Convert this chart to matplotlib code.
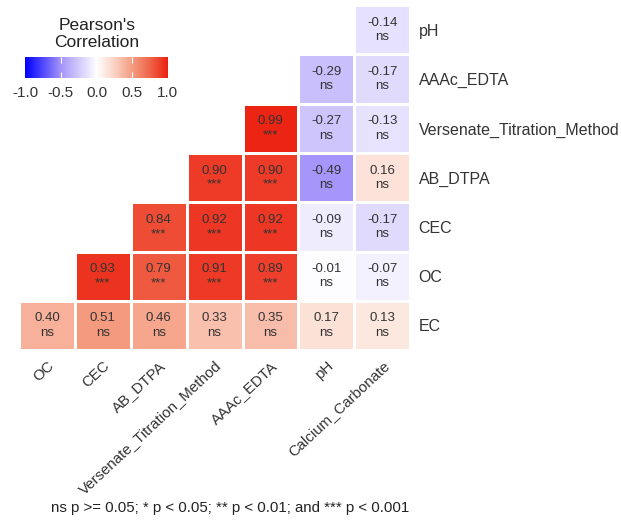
import numpy as np
import matplotlib.pyplot as plt
from matplotlib.colors import LinearSegmentedColormap

plt.rcParams['font.family'] = ['Liberation Sans', 'DejaVu Sans']

# columns (left to right) and rows (top to bottom)
cols = ['OC', 'CEC', 'AB_DTPA', 'Versenate_Titration_Method', 'AAAc_EDTA', 'pH', 'Calcium_Carbonate']
rows = ['pH', 'AAAc_EDTA', 'Versenate_Titration_Method', 'AB_DTPA', 'CEC', 'OC', 'EC']

nan = np.nan
r_vals = np.array([
    [nan, nan, nan, nan, nan, nan, -0.14],
    [nan, nan, nan, nan, nan, -0.29, -0.17],
    [nan, nan, nan, nan, 0.99, -0.27, -0.13],
    [nan, nan, nan, 0.90, 0.90, -0.49, 0.16],
    [nan, nan, 0.84, 0.92, 0.92, -0.09, -0.17],
    [nan, 0.93, 0.79, 0.91, 0.89, -0.01, -0.07],
    [0.40, 0.51, 0.46, 0.33, 0.35, 0.17, 0.13],
])
sig = [
    ['', '', '', '', '', '', 'ns'],
    ['', '', '', '', '', 'ns', 'ns'],
    ['', '', '', '', '***', 'ns', 'ns'],
    ['', '', '', '***', '***', 'ns', 'ns'],
    ['', '', '***', '***', '***', 'ns', 'ns'],
    ['', '***', '***', '***', '***', 'ns', 'ns'],
    ['ns', 'ns', 'ns', 'ns', 'ns', 'ns', 'ns'],
]

# blue - white - red, roughly like ggplot's Lab interpolation
cmap = LinearSegmentedColormap.from_list('corr', [
    (0.0, '#0000FF'), (0.25, '#A493FA'), (0.5, '#FFFFFF'),
    (0.625, '#FBD2C4'), (0.75, '#F49D82'), (0.875, '#F0654A'), (1.0, '#EB2212')])

fig = plt.figure(figsize=(6.21, 5.21), dpi=100)
ax = fig.add_axes([0.0306, 0.328, 0.630, 0.662])

masked = np.ma.masked_invalid(r_vals)
ax.pcolormesh(np.arange(len(cols) + 1), np.arange(len(rows) + 1), masked,
              cmap=cmap, vmin=-1, vmax=1, edgecolor='white', linewidth=1)
ax.set_xlim(0, len(cols))
ax.set_ylim(len(rows), 0)

for i in range(len(rows)):
    for j in range(len(cols)):
        if np.isnan(r_vals[i, j]):
            continue
        ax.text(j + 0.5, i + 0.5, f'{r_vals[i, j]:.2f}\n{sig[i][j]}',
                ha='center', va='center', fontsize=9.5, color='#333333',
                linespacing=1.25)

for s in ax.spines.values():
    s.set_visible(False)
ax.set_xticks(np.arange(len(cols)) + 0.5)
ax.set_xticklabels(cols, rotation=43, ha='right', rotation_mode='anchor',
                   fontsize=10.8, color='#333333')
ax.yaxis.tick_right()
ax.set_yticks(np.arange(len(rows)) + 0.5)
ax.set_yticklabels(rows, fontsize=11.5, color='#333333')
ax.tick_params(axis='both', length=0)
ax.tick_params(axis='x', pad=6)
ax.tick_params(axis='y', pad=6)

# colorbar legend
cax = fig.add_axes([0.0403, 0.850, 0.230, 0.040])
grad = np.linspace(-1, 1, 256).reshape(1, -1)
cax.imshow(grad, aspect='auto', cmap=cmap, vmin=-1, vmax=1, extent=[-1, 1, 0, 1])
cax.set_yticks([])
cax.set_xticks([-1, -0.5, 0, 0.5, 1])
cax.set_xticklabels(['-1.0', '-0.5', '0.0', '0.5', '1.0'], fontsize=11, color='#333333')
cax.tick_params(axis='x', color='white', direction='in', length=4, top=True, pad=6)
for k in (0, -1):
    t = cax.xaxis.get_major_ticks()[k]
    t.tick1line.set_visible(False)
    t.tick2line.set_visible(False)
for s in cax.spines.values():
    s.set_visible(False)
fig.text(0.156, 0.935, "Pearson's\nCorrelation", ha='center', va='center',
         fontsize=12.5, color='#222222', linespacing=1.15)

fig.text(0.37, 0.025, 'ns p >= 0.05; * p < 0.05; ** p < 0.01; and *** p < 0.001',
         ha='center', va='center', fontsize=10.8, color='#222222')

fig.savefig('out.png', dpi=100)
